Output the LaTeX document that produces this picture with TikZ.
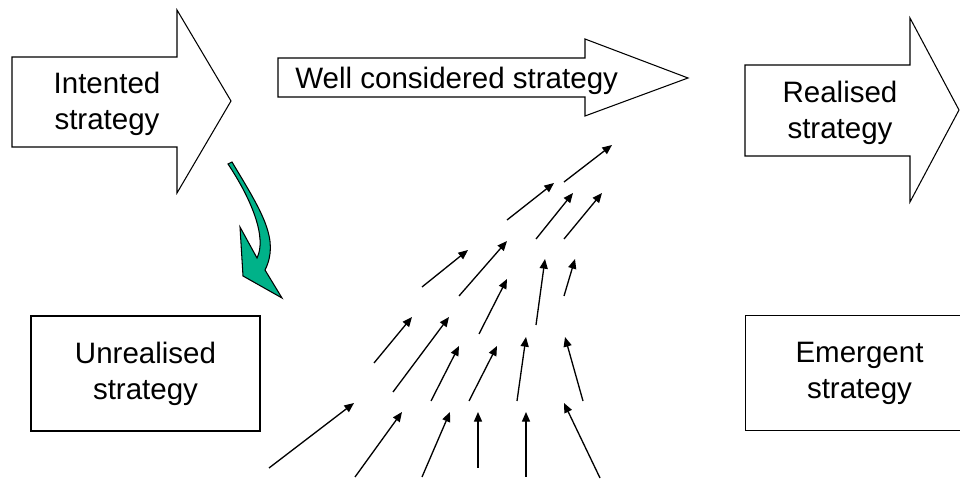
\documentclass[tikz,border=0pt]{standalone}
\usepackage{fontspec}
\setmainfont{Liberation Sans}
\usetikzlibrary{arrows.meta}
\definecolor{turngreen}{RGB}{0,178,137}

\begin{document}
\begin{tikzpicture}[x=0.02cm, y=-0.02cm,
        blockarrow/.style={draw, line width=0.6pt, line join=miter},
        box/.style={draw, line width=0.6pt, minimum width=4.58cm, minimum height=2.3cm, align=center, font=\fontsize{16.8}{20.4}\selectfont},
        txt/.style={inner sep=0pt, align=center, font=\fontsize{16.8}{20.4}\selectfont},
        flow/.style={-{Triangle[length=5.5pt, width=4.6pt]}, line width=0.75pt},
        turn/.style={draw=black, line width=0.6pt, fill=turngreen, line join=miter}
    ]
        \useasboundingbox (0,0) rectangle (960,482);

        % block arrows
        \draw[blockarrow] (12,57) -- (177,57) -- (177,10) -- (231,101) -- (177,193) -- (177,147) -- (12,147) -- cycle;
        \node[txt] (intended) at (107,104) {Intented\\strategy};

        \draw[blockarrow] (278,58) -- (585,58) -- (585,39) -- (688,78) -- (585,116) -- (585,97) -- (278,97) -- cycle;
        \node[txt, anchor=base west] (considered) at (295,89) {Well considered strategy};

        \draw[blockarrow] (745,65) -- (910,65) -- (910,18) -- (959,110) -- (910,202) -- (910,156) -- (745,156) -- cycle;
        \node[txt] (realised) at (840,113) {Realised\\strategy};

        % boxes
        \node[box] (unrealised) at (145.5,373.5) {Unrealised\\strategy};
        \node[box] (emergent) at (859.5,373) {Emergent\\strategy};

        % curved green arrow
        \draw[turn] (228,164) -- (232,162) .. controls (262,212) and (280,240) .. (265,270) -- (282,298) -- (243,276) -- (240,227) -- (257,258) .. controls (267,238) and (252,200) .. cycle;

        % emergent flows
        \foreach \ax/\ay/\bx/\by in {269/468/354/403, 355/477/402/412, 422/477/450/412, 478/468/478/412,
                526/477/526/412, 600/478/564/403, 374/363/412/317, 393/392/449/317, 431/401/459/346,
                469/401/497/346, 517/401/526/337, 583/401/565/337, 422/287/468/250, 459/296/507/241,
                479/334/507/279, 536/325/545/259, 564/296/575/259, 507/220/554/183, 536/239/573/193,
                564/239/602/193, 564/182/612/145}
            \draw[flow] (\ax,\ay) -- (\bx,\by);
\end{tikzpicture}
\end{document}
